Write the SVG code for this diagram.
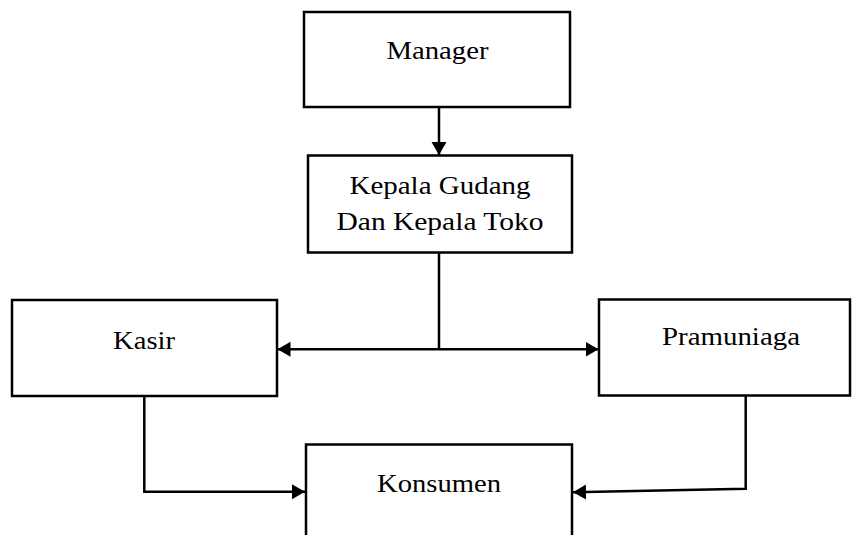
<svg xmlns="http://www.w3.org/2000/svg" width="852" height="535" viewBox="0 0 852 535">
<style>
.box{fill:#fff;stroke:#000;stroke-width:2.5}
.lbl{font-family:"Liberation Serif","Times New Roman",serif;font-size:25.5px;fill:#000;text-anchor:middle}
.con{fill:none;stroke:#000;stroke-width:2.5}
</style>
<defs>
<marker id="ah" markerUnits="userSpaceOnUse" markerWidth="14" markerHeight="16" refX="13" refY="7.5" orient="auto-start-reverse" viewBox="0 0 14 16">
<path d="M0,0 L13,7.5 L0,15 z" fill="#000"/>
</marker>
</defs>
<rect x="0" y="0" width="852" height="535" fill="#fff"/>
<g id="manager">
<rect class="box" x="304" y="12" width="266" height="95"/>
<text class="lbl" x="437.5" y="58.5" textLength="102" lengthAdjust="spacingAndGlyphs">Manager</text>
</g>
<g id="kepala">
<rect class="box" x="308" y="155.5" width="264" height="97"/>
<text class="lbl" x="440" y="193.5" textLength="181" lengthAdjust="spacingAndGlyphs">Kepala Gudang</text>
<text class="lbl" x="440" y="230" textLength="207" lengthAdjust="spacingAndGlyphs">Dan Kepala Toko</text>
</g>
<g id="kasir">
<rect class="box" x="12" y="300" width="265" height="96"/>
<text class="lbl" x="144" y="348.5" textLength="62" lengthAdjust="spacingAndGlyphs">Kasir</text>
</g>
<g id="pramuniaga">
<rect class="box" x="599" y="299.5" width="251" height="96"/>
<text class="lbl" x="731" y="345" textLength="138" lengthAdjust="spacingAndGlyphs">Pramuniaga</text>
</g>
<g id="konsumen">
<rect class="box" x="306" y="444.5" width="266" height="100"/>
<text class="lbl" x="439" y="491.5" textLength="124" lengthAdjust="spacingAndGlyphs">Konsumen</text>
</g>
<g id="connectors">
<path class="con" d="M439,107 V155" marker-end="url(#ah)"/>
<path class="con" d="M439,252.5 V349.3"/>
<path class="con" d="M277.5,349.3 H598.5" marker-start="url(#ah)" marker-end="url(#ah)"/>
<path class="con" d="M144.3,396 V491.7 H305" marker-end="url(#ah)"/>
<path class="con" d="M745.7,395.5 V488.7 L573,492.3" marker-end="url(#ah)"/>
</g>
</svg>
